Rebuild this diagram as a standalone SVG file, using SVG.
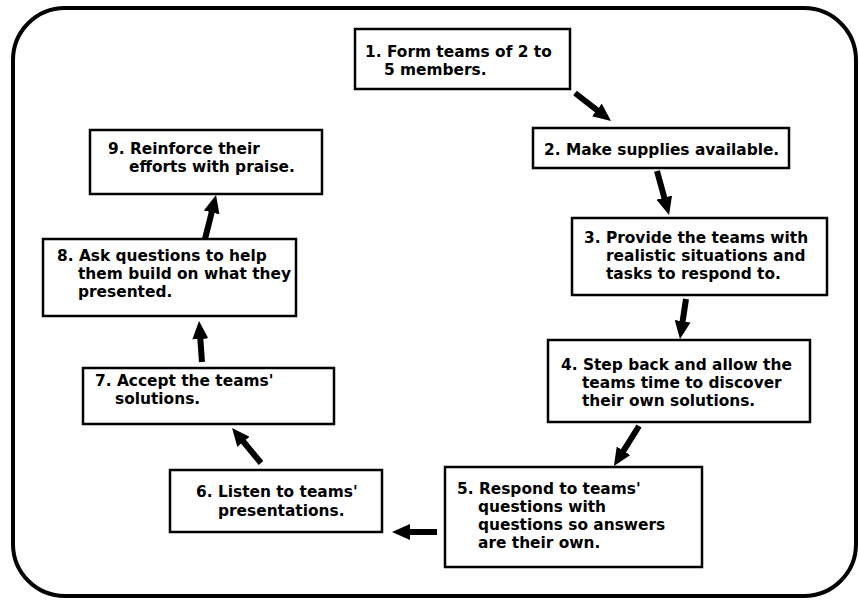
<svg xmlns="http://www.w3.org/2000/svg" width="859" height="600" viewBox="0 0 859 600">
<style>
.box{fill:#fff;stroke:#000;stroke-width:2.5}
.t{font-family:"DejaVu Sans","Liberation Sans",Arial,sans-serif;font-weight:bold;font-size:15.4px;fill:#000}
.arr{stroke:#000;stroke-width:6;fill:none;marker-end:url(#ah)}
</style>
<defs>
<marker id="ah" viewBox="0 0 18 16" refX="3" refY="8" markerWidth="18" markerHeight="16" markerUnits="userSpaceOnUse" orient="auto">
<polygon points="0,0 18,8 0,16" fill="#000"/>
</marker>
</defs>
<rect x="0" y="0" width="859" height="600" fill="#fff"/>
<rect x="13" y="8" width="843" height="588" rx="52" ry="52" fill="none" stroke="#000" stroke-width="4"/>
<g id="connectors">
<line class="arr" x1="575" y1="93" x2="599.2" y2="111.8"/>
<line class="arr" x1="657" y1="171" x2="665.1" y2="200.5"/>
<line class="arr" x1="686" y1="299" x2="682.2" y2="324.2"/>
<line class="arr" x1="639" y1="426" x2="621.9" y2="453.3"/>
<line class="arr" x1="437" y1="532" x2="407" y2="532"/>
<line class="arr" x1="261" y1="463" x2="241.6" y2="439.5"/>
<line class="arr" x1="202" y1="362" x2="200.1" y2="336"/>
<line class="arr" x1="205" y1="239" x2="212.4" y2="209.5"/>
</g>
<g id="n1">
<rect class="box" x="355" y="29" width="215" height="60"/>
<text class="t" x="365" y="57">1. Form teams of 2 to</text>
<text class="t" x="384" y="75">5 members.</text>
</g>
<g id="n2">
<rect class="box" x="533" y="128" width="256" height="40"/>
<text class="t" x="544" y="155">2. Make supplies available.</text>
</g>
<g id="n3">
<rect class="box" x="572" y="218" width="255" height="77"/>
<text class="t" x="584" y="243">3. Provide the teams with</text>
<text class="t" x="606" y="261">realistic situations and</text>
<text class="t" x="606" y="279">tasks to respond to.</text>
</g>
<g id="n4">
<rect class="box" x="548" y="340" width="262" height="82"/>
<text class="t" x="561" y="370">4. Step back and allow the</text>
<text class="t" x="582" y="388">teams time to discover</text>
<text class="t" x="582" y="406">their own solutions.</text>
</g>
<g id="n5">
<rect class="box" x="445" y="467" width="257" height="100"/>
<text class="t" x="457" y="494">5. Respond to teams'</text>
<text class="t" x="478" y="512">questions with</text>
<text class="t" x="478" y="530">questions so answers</text>
<text class="t" x="478" y="548">are their own.</text>
</g>
<g id="n6">
<rect class="box" x="170" y="470" width="212" height="62"/>
<text class="t" x="196" y="497">6. Listen to teams'</text>
<text class="t" x="218" y="516">presentations.</text>
</g>
<g id="n7">
<rect class="box" x="83" y="368" width="251" height="56"/>
<text class="t" x="95" y="386">7. Accept the teams'</text>
<text class="t" x="115" y="404">solutions.</text>
</g>
<g id="n8">
<rect class="box" x="43" y="239" width="253" height="77"/>
<text class="t" x="57" y="261">8. Ask questions to help</text>
<text class="t" x="78" y="279">them build on what they</text>
<text class="t" x="78" y="297">presented.</text>
</g>
<g id="n9">
<rect class="box" x="90" y="130" width="232" height="64"/>
<text class="t" x="108" y="154">9. Reinforce their</text>
<text class="t" x="129" y="172">efforts with praise.</text>
</g>
</svg>
